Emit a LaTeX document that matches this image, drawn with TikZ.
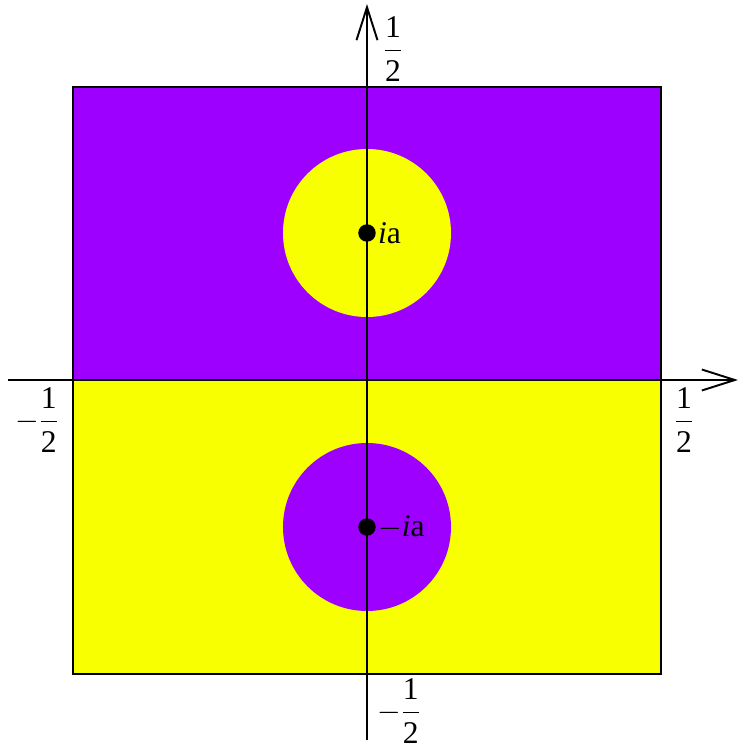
\documentclass[tikz,border=0pt]{standalone}
\usepackage{amsmath}
\usepackage{fontspec}
\setmainfont{Liberation Serif}
\usetikzlibrary{arrows.meta,positioning}
\definecolor{Violet}{HTML}{9E00FF}
\definecolor{Lemon}{HTML}{F8FF00}
\newcommand{\halfval}{\dfrac{\mathrm{1}\rule[-4pt]{0pt}{4pt}}{\rule{0pt}{15pt}\mathrm{2}}}

\begin{document}
\begin{tikzpicture}[x=0.02cm,y=0.02cm,every node/.style={font=\fontsize{18}{21}\selectfont},tick/.style={inner sep=0pt},axis/.style={line width=0.8pt,-{Straight Barb[length=0.66cm,width=0.42cm,line width=1.1pt]}},pole/.style={circle,fill=black,inner sep=0pt,minimum size=0.35cm},polelabel/.style={anchor=west,inner sep=1pt}]
\useasboundingbox (-367,-371) rectangle (372,380);
\fill[Violet] (-294,0) rectangle (294,293);\fill[Lemon] (-294,-294) rectangle (294,0);
\fill[Lemon] (0,147) circle (84);\fill[Violet] (0,-147) circle (84);
\draw[line width=0.6pt] (-294,-294) rectangle (294,293);
\coordinate (xl) at (-359,0);\coordinate (xr) at (371,0);\coordinate (yb) at (0,-360);\coordinate (yt) at (0,376);
\draw[axis](xl)--(xr);\draw[axis](yb)--(yt);
\node[pole](up) at (0,147){};\node[polelabel](uplbl) at (up.east){$\mathit{i}$a};
\node[pole](dn) at (0,-147){};\node[polelabel](dnlbl) at (dn.east){$-\mathit{i}$a};
\node[tick](ttop) at (26,331){$\halfval$};
\node[tick](tright) at (317,-40){$\halfval$};
\node[tick](tleft) at (-330,-40){$-\halfval$};
\node[tick](tbot) at (32,-331){$-\halfval$};
\end{tikzpicture}
\end{document}
